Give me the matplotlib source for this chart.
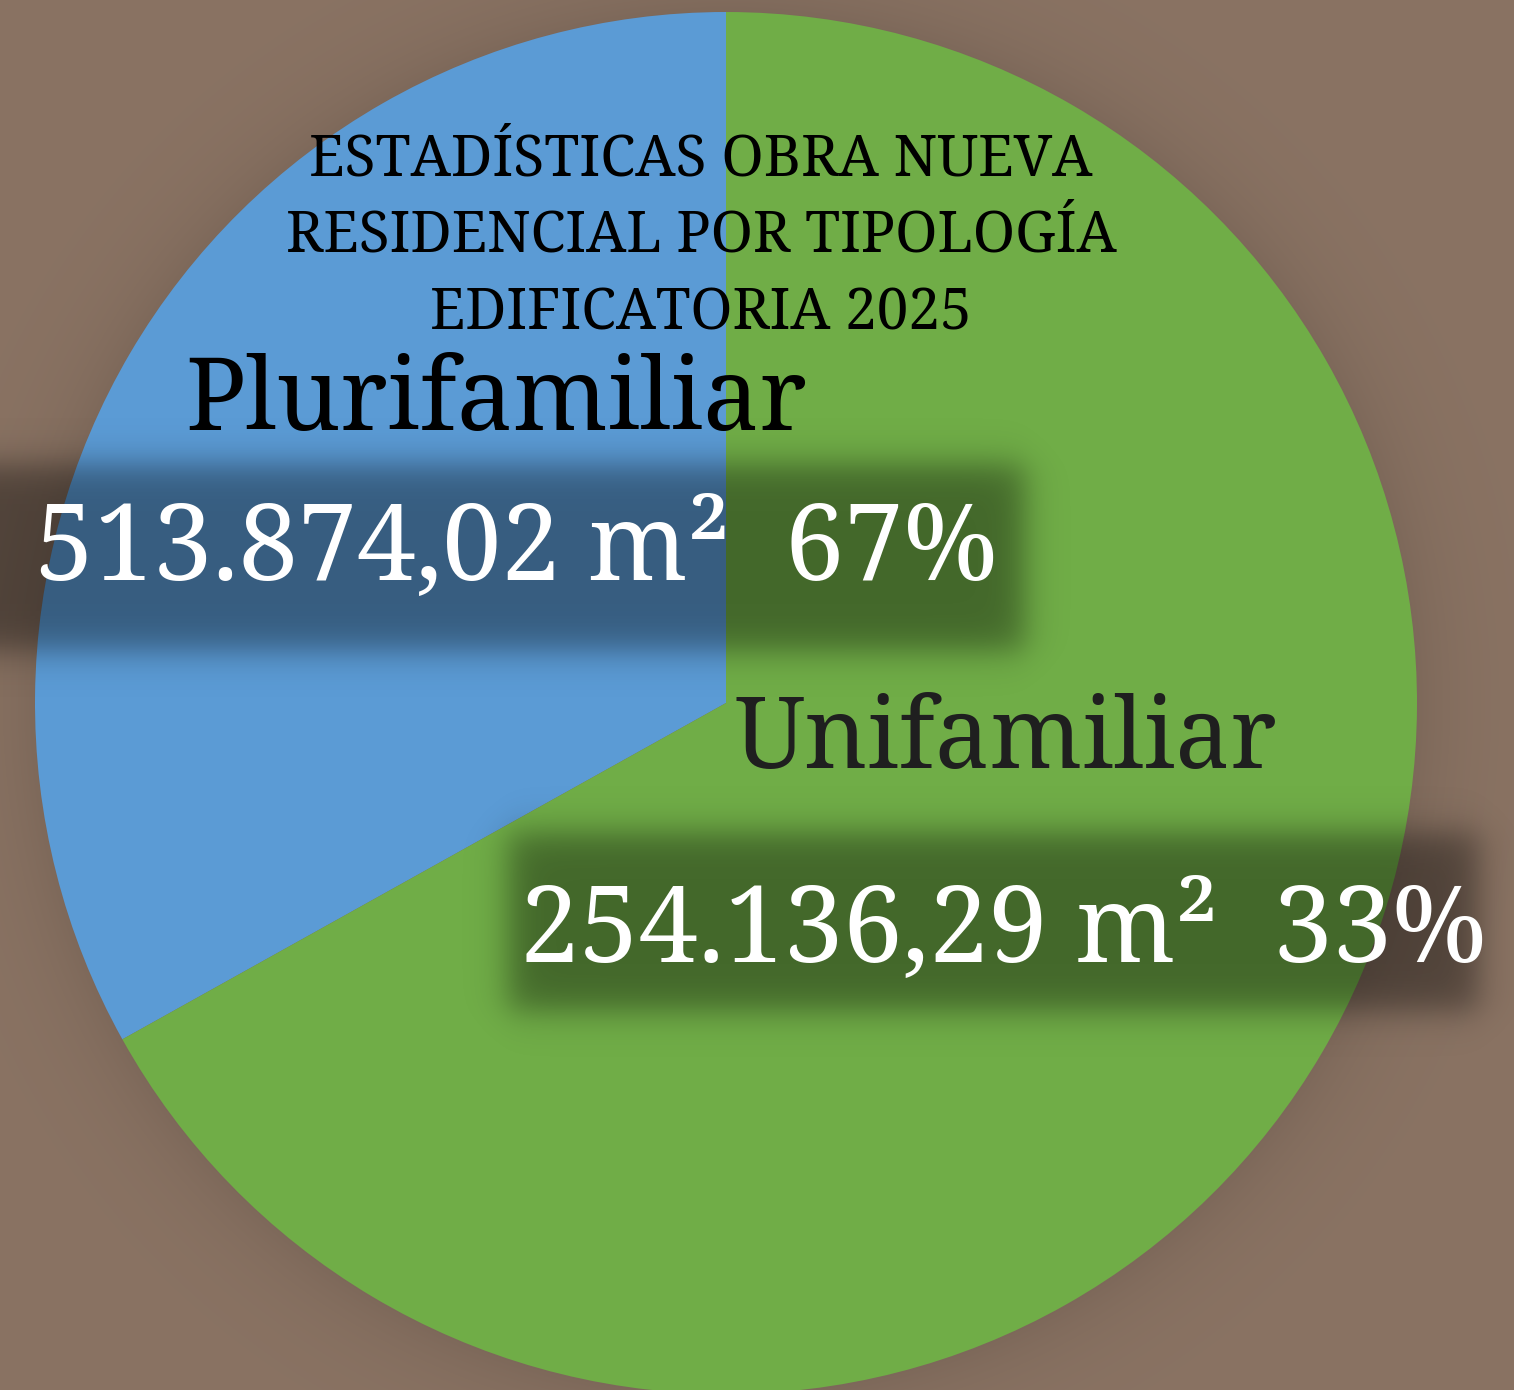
import numpy as np
import matplotlib
matplotlib.use("Agg")
import matplotlib.pyplot as plt
from matplotlib import font_manager

# ---- data ----
categories = ["Unifamiliar", "Plurifamiliar"]
areas_m2 = [254136.29, 513874.02]
slice_colors = ["#5B9BD5", "#70AD47"]
title_lines = ["ESTADÍSTICAS OBRA NUEVA", "RESIDENCIAL POR TIPOLOGÍA", "EDIFICATORIA 2025"]
label_names = ["Plurifamiliar", "Unifamiliar"]
label_values = ["513.874,02 m²  67%", "254.136,29 m²  33%"]

W, H = 1514, 1390
DPI = 100
avail = {f.name for f in font_manager.fontManager.ttflist}
FAM = [f for f in ["Noto Serif", "Droid Serif", "DejaVu Serif"] if f in avail] or ["DejaVu Serif"]

fig = plt.figure(figsize=(W / DPI, H / DPI), dpi=DPI)
fig.patch.set_facecolor("#8A7363")

# pie geometry in pixels
CX, CY, R = 726, 703, 691

# ---- background with soft pie shadow ----
yy, xx = np.mgrid[0:H, 0:W].astype(float)
base = np.array([0x8A, 0x73, 0x63]) / 255.0
rr = np.hypot(xx - CX, yy - CY)
dark = 0.09 * np.exp(-np.clip(rr - R, 0, None) / 45.0)
bg = base[None, None, :] * (1 - dark[..., None])
ax_bg = fig.add_axes([0, 0, 1, 1], zorder=0)
ax_bg.imshow(bg, extent=(0, W, H, 0), interpolation="bilinear")
ax_bg.set_xlim(0, W); ax_bg.set_ylim(H, 0); ax_bg.axis("off")

# ---- pie ----
ax = fig.add_axes([0, 0, 1, 1], zorder=1)
ax.patch.set_alpha(0)
ax.pie(areas_m2, colors=slice_colors, startangle=90, counterclock=True,
       radius=1.0, center=(0, 0), wedgeprops=dict(linewidth=0))
ax.set_aspect("auto")
ax.set_xlim(-CX / R, (W - CX) / R)
ax.set_ylim(-(H - CY) / R, CY / R)
ax.axis("off")

# ---- dark blurred label boxes ----
def sig(z):
    return 1.0 / (1.0 + np.exp(-z))

def soft_rect(x0, x1, y0, y1, s=10.0):
    return sig((xx - x0) / s) * sig((x1 - xx) / s) * sig((yy - y0) / s) * sig((y1 - yy) / s)

alpha = 0.40 * np.clip(soft_rect(-200, 1024, 464, 650) + soft_rect(508, 1478, 832, 1010), 0, 1)
ov = np.zeros((H, W, 4))
ov[..., 3] = alpha
ax_ov = fig.add_axes([0, 0, 1, 1], zorder=2)
ax_ov.patch.set_alpha(0)
ax_ov.imshow(ov, extent=(0, W, H, 0), interpolation="bilinear")
ax_ov.set_xlim(0, W); ax_ov.set_ylim(H, 0); ax_ov.axis("off")

# ---- texts ----
renderer = fig.canvas.get_renderer()

def fit_text(s, x, yb, width_px, cap_px, color, ha="left"):
    fs0 = cap_px / 0.72 / (DPI / 72.0)
    t = fig.text(x / W, 1 - yb / H, s, fontsize=fs0, ha=ha, va="baseline",
                 color=color, family=FAM, zorder=5)
    bb = t.get_window_extent(renderer)
    fs_w = fs0 * width_px / bb.width
    t.set_fontsize(min(fs0 * 1.03, fs_w))
    return t

# title (centred lines)
fit_text(title_lines[0], 701, 175, 783, 42, "black", ha="center")
fit_text(title_lines[1], 701, 252, 832, 42, "black", ha="center")
fit_text(title_lines[2], 701, 330, 542, 42, "black", ha="center")

# labels
fit_text(label_names[0], 185, 430, 623, 73, "black")
fit_text(label_values[0], 35, 580, 963, 75, "white")
fit_text(label_names[1], 735, 768, 542, 71, "#1F1F1F")
fit_text(label_values[1], 520, 962, 967, 75, "white")

fig.savefig("out.png", dpi=DPI, facecolor=fig.get_facecolor())
